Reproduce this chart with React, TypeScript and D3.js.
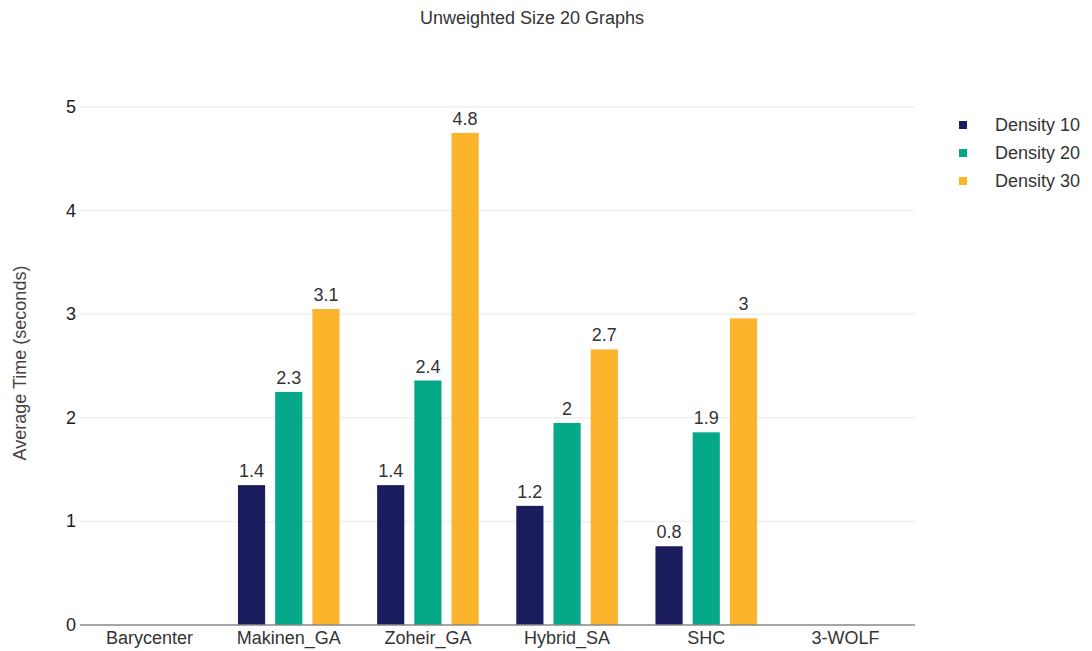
import React from "react";
import * as d3 from "d3";

const categories = ["Barycenter", "Makinen_GA", "Zoheir_GA", "Hybrid_SA", "SHC", "3-WOLF"];
const seriesNames = ["Density 10", "Density 20", "Density 30"];
const density10 = [0, 1.35, 1.35, 1.15, 0.76, 0];
const density20 = [0, 2.25, 2.36, 1.95, 1.86, 0];
const density30 = [0, 3.05, 4.75, 2.66, 2.96, 0];
const yTicks = [0, 1, 2, 3, 4, 5];
const colors = ["#1b1c5d", "#06a88a", "#fbb42b"];

const W = 1092, H = 651;
const FONT = "'Liberation Sans', Arial, sans-serif";
const FS = 18;

export default function App() {
  const series = [density10, density20, density30];
  const x0 = d3.scaleBand<string>().domain(categories).range([80, 915]).paddingInner(0.27).paddingOuter(0.135);
  const x1 = d3.scaleBand<string>().domain(seriesNames).range([0, x0.bandwidth()]).paddingInner(0.27);
  const y = d3.scaleLinear().domain([0, 5]).range([625, 107]);
  const fmt = (v: number) => String(Math.round(v * 10 + 1e-9) / 10);

  return (
    <svg width={W} height={H} style={{ position: "absolute", left: 0, top: 0, background: "#fff" }} fontFamily={FONT}>
      <text x={532} y={24} textAnchor="middle" fontSize={FS} fill="#333">Unweighted Size 20 Graphs</text>
      {yTicks.map((t) => (
        <g key={t}>
          {t > 0 && <line x1={80} x2={915} y1={y(t)} y2={y(t)} stroke="#efefef" strokeWidth={1.5} />}
          <text x={76} y={y(t) + 6} textAnchor="end" fontSize={FS} fill="#222">{t}</text>
        </g>
      ))}
      <text transform={`translate(26,363) rotate(-90)`} textAnchor="middle" fontSize={FS} fill="#444">Average Time (seconds)</text>
      {categories.map((c, i) => (
        <g key={c} transform={`translate(${x0(c)},0)`}>
          {series.map((s, j) => {
            const v = s[i];
            if (!v) return null;
            const bx = x1(seriesNames[j])!;
            return (
              <g key={j}>
                <rect x={bx} y={y(v)} width={x1.bandwidth()} height={y(0) - y(v)} fill={colors[j]} />
                <text x={bx + x1.bandwidth() / 2} y={y(v) - 8} textAnchor="middle" fontSize={FS} fill="#333">{fmt(v)}</text>
              </g>
            );
          })}
          <text x={x0.bandwidth() / 2} y={644} textAnchor="middle" fontSize={FS} fill="#333">{c}</text>
        </g>
      ))}
      <line x1={80} x2={915} y1={y(0)} y2={y(0)} stroke="#888" strokeWidth={1.5} />
      {seriesNames.map((n, j) => (
        <g key={n} transform={`translate(959,${125 + j * 28})`}>
          <rect x={0} y={-4} width={8} height={8} fill={colors[j]} />
          <text x={36} y={6} fontSize={FS} fill="#333">{n}</text>
        </g>
      ))}
    </svg>
  );
}
